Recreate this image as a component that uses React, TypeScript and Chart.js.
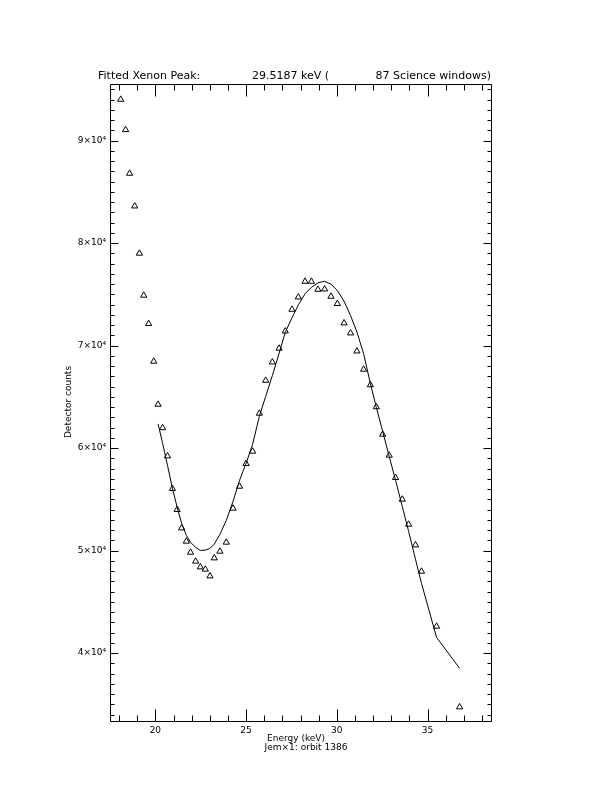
import React, { useEffect, useRef } from "react";
import { Chart, registerables } from "chart.js";

Chart.register(...registerables);

// Measured spectrum (energy in keV, detector counts)
const energy = [
  18.09, 18.36, 18.58, 18.86, 19.12, 19.36, 19.63, 19.91, 20.15, 20.4,
  20.67, 20.94, 21.2, 21.45, 21.71, 21.94, 22.22, 22.48, 22.75, 23.01,
  23.25, 23.56, 23.91, 24.28, 24.64, 25.0, 25.36, 25.73, 26.08, 26.45,
  26.82, 27.16, 27.53, 27.88, 28.25, 28.6, 28.96, 29.33, 29.68, 30.03,
  30.4, 30.76, 31.11, 31.48, 31.85, 32.18, 32.53, 32.89, 33.24, 33.61,
  33.96, 34.34, 34.67, 35.5, 36.77,
];
const counts = [
  94020, 91060, 86800, 83610, 79000, 74900, 72140, 68460, 64260, 61970,
  59220, 56040, 53990, 52195, 50900, 49820, 48950, 48390, 48170, 47510,
  49270, 49920, 50800, 54120, 56260, 58480, 59680, 63385, 66600, 68390,
  69730, 71410, 73530, 74730, 76260, 76260, 75480, 75510, 74800, 74090,
  72200, 71220, 69460, 67680, 66165, 64020, 61340, 59290, 57110, 55000,
  52555, 50540, 47970, 42600, 34730,
];
// Fitted curve, evaluated at the energies from 20.15 keV onward
const fitEnergy = energy.slice(8);
const fitCounts = [
  62360, 60460, 58310, 56070, 54240, 52650, 51480, 50800, 50310, 50020,
  50040, 50210, 50640, 51580, 52950, 54800, 56850, 58510, 60360, 63090,
  65040, 67090, 69240, 71290, 72710, 73970, 75060, 75690, 76130, 76280,
  75990, 75390, 74340, 72930, 71320, 69210, 66310, 63970, 61630, 59190,
  56850, 54310, 51870, 49140, 46800, 41530, 38510,
];

const xMajorTicks = [20, 25, 30, 35];
const yMajorTicks = [40000, 50000, 60000, 70000, 80000, 90000];
const xRange = [17.5, 38.5];
const yRange = [33370, 95530];
const xMinorStep = 1;
const yMinorStep = 1000;

const titleParts = ["Fitted Xenon Peak:", "29.5187 keV (", "87 Science windows)"];
const xTitle = "Energy (keV)";
const xSubTitle = "Jem×1: orbit 1386";
const yTitle = "Detector counts";

const FONT = "'DejaVu Sans', sans-serif";

const framePlugin = {
  id: "idlFrame",
  afterDraw(chart: any) {
    const { ctx, chartArea } = chart;
    const { left, right, top, bottom } = chartArea;
    const xs = chart.scales.x;
    const ys = chart.scales.y;
    ctx.save();
    ctx.strokeStyle = "#000";
    ctx.lineWidth = 1;
    const L = Math.round(left) + 0.5;
    const R = Math.round(right) + 0.5;
    const T = Math.round(top) + 0.5;
    const B = Math.round(bottom) + 0.5;
    ctx.beginPath();
    ctx.rect(L, T, R - L, B - T);
    ctx.stroke();

    ctx.beginPath();
    // x ticks (bottom & top)
    for (let v = Math.ceil(xRange[0]); v <= xRange[1]; v += xMinorStep) {
      const px = Math.round(xs.getPixelForValue(v)) + 0.5;
      const len = xMajorTicks.includes(v) ? 12 : 6;
      ctx.moveTo(px, B);
      ctx.lineTo(px, B - len);
      ctx.moveTo(px, T);
      ctx.lineTo(px, T + len);
    }
    // y ticks (left & right)
    for (let v = Math.ceil(yRange[0] / yMinorStep) * yMinorStep; v <= yRange[1]; v += yMinorStep) {
      const py = Math.round(ys.getPixelForValue(v)) + 0.5;
      const len = yMajorTicks.includes(v) ? 8 : 4;
      ctx.moveTo(L, py);
      ctx.lineTo(L + len, py);
      ctx.moveTo(R, py);
      ctx.lineTo(R - len, py);
    }
    ctx.stroke();

    // texts
    ctx.fillStyle = "#000";
    ctx.textBaseline = "alphabetic";
    ctx.textAlign = "left";
    ctx.font = `11px ${FONT}`;
    ctx.fillText(titleParts[0], 98, 79);
    ctx.fillText(titleParts[1], 252, 79);
    ctx.textAlign = "right";
    ctx.fillText(titleParts[2], 491, 79);

    ctx.textAlign = "center";
    ctx.font = `9px ${FONT}`;
    ctx.fillText(xTitle, 296, 741);
    ctx.fillText(xSubTitle, 306, 750);

    ctx.save();
    ctx.translate(71, 402);
    ctx.rotate(-Math.PI / 2);
    ctx.fillText(yTitle, 0, 0);
    ctx.restore();
    ctx.restore();
  },
};

function ChartView() {
  const ref = useRef<HTMLCanvasElement | null>(null);
  useEffect(() => {
    if (!ref.current) return;
    const chart = new Chart(ref.current, {
      type: "scatter",
      data: {
        datasets: [
          {
            label: "Data",
            data: energy.map((e, i) => ({ x: e, y: counts[i] })),
            pointStyle: "triangle",
            pointRadius: 3.6,
            pointBorderWidth: 1,
            borderColor: "#000",
            backgroundColor: "rgba(0,0,0,0)",
            showLine: false,
          },
          {
            label: "Fit",
            data: fitEnergy.map((e, i) => ({ x: e, y: fitCounts[i] })),
            showLine: true,
            pointRadius: 0,
            borderColor: "#000",
            borderWidth: 1,
            tension: 0,
            fill: false,
          },
        ],
      },
      options: {
        animation: false,
        responsive: false,
        maintainAspectRatio: false,
        devicePixelRatio: 1,
        layout: { padding: { left: 0, top: 84, right: 121, bottom: 41 } },
        plugins: {
          legend: { display: false },
          tooltip: { enabled: false },
          title: { display: false },
        },
        scales: {
          x: {
            type: "linear",
            min: xRange[0],
            max: xRange[1],
            grid: { display: false, drawTicks: false },
            border: { display: false },
            afterBuildTicks: (s: any) => {
              s.ticks = xMajorTicks.map((v) => ({ value: v }));
            },
            afterFit: (s: any) => {
              s.height = 30;
            },
            ticks: {
              color: "#000",
              padding: 4,
              maxRotation: 0,
              autoSkip: false,
              font: { family: FONT, size: 9 },
              callback: (v: any) => String(v),
            },
          },
          y: {
            type: "linear",
            min: yRange[0],
            max: yRange[1],
            grid: { display: false, drawTicks: false },
            border: { display: false },
            afterBuildTicks: (s: any) => {
              s.ticks = yMajorTicks.map((v) => ({ value: v }));
            },
            afterFit: (s: any) => {
              s.width = 110;
            },
            ticks: {
              color: "#000",
              padding: 4,
              autoSkip: false,
              font: { family: FONT, size: 9 },
              callback: (v: any) => `${Number(v) / 10000}×10⁴`,
            },
          },
        },
      },
      plugins: [framePlugin],
    });
    return () => chart.destroy();
  }, []);
  return <canvas ref={ref} width={612} height={792} style={{ display: "block" }} />;
}

export default function App() {
  return (
    <div style={{ position: "absolute", left: 0, top: 0, width: 612, height: 792, background: "#fff" }}>
      <ChartView />
    </div>
  );
}
